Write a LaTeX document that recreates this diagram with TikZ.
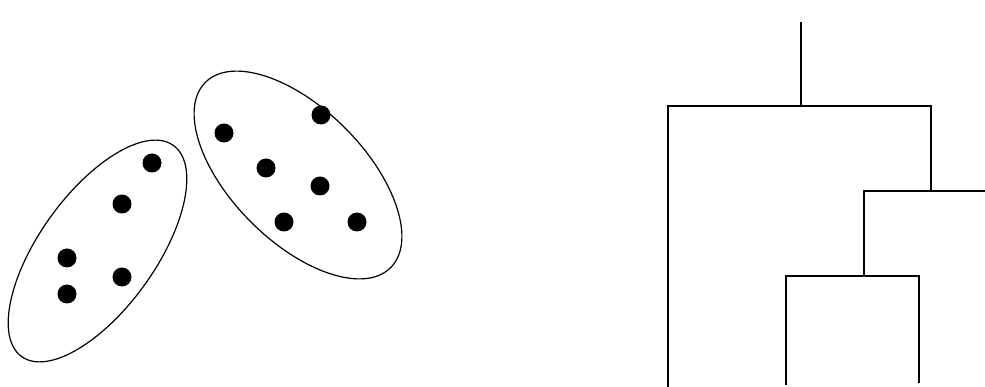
\documentclass[tikz,border=0pt]{standalone}
\begin{document}
\begin{tikzpicture}[x=1pt,y=-1pt,
  dot/.style={circle,fill=black,inner sep=0pt,minimum size=19pt},
  hull/.style={draw=black,line width=1.2pt},
  tree/.style={draw=black,line width=2pt}]
\useasboundingbox (0,0) rectangle (985,387);
% left cluster
\draw[hull] (97.5,251) ellipse[x radius=130,y radius=58,rotate=54.3];
\foreach \p/\q [count=\i] in {152/163,122/204,67/258,122/277,67/294}
  \node[dot] (l\i) at (\p,\q) {};
% right cluster
\draw[hull] (298,175) ellipse[x radius=131,y radius=66.5,rotate=-45];
\foreach \p/\q [count=\i] in {321/115,224/133,266/168,320/186,284/222,357/222}
  \node[dot] (r\i) at (\p,\q) {};
% dendrogram
\coordinate (root) at (801,22);
\coordinate (j1) at (801,106);
\coordinate (a1) at (668,106);
\coordinate (b1) at (931,106);
\coordinate (leafA) at (668,387);
\coordinate (j2) at (931,191);
\coordinate (a2) at (864,191);
\coordinate (b2) at (985,191);
\coordinate (j3) at (864,276);
\coordinate (a3) at (786,276);
\coordinate (b3) at (919,276);
\coordinate (leafB) at (786,385);
\coordinate (leafC) at (919,383);
\draw[tree] (root) -- (j1);
\draw[tree] (leafA) -- (a1) -- (b1) -- (j2);
\draw[tree] (j3) -- (a2) -- (b2);
\draw[tree] (leafB) -- (a3) -- (b3) -- (leafC);
\end{tikzpicture}
\end{document}
